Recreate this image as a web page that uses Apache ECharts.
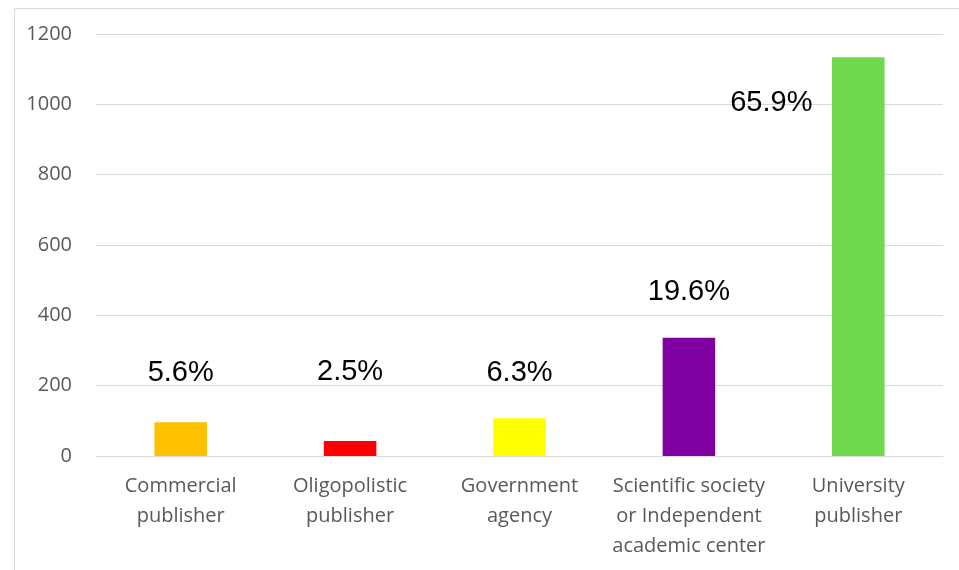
<!DOCTYPE html>
<html lang="en">
<head>
    <meta charset="UTF-8">
    <title>Publishers</title>
    <script src="https://cdn.jsdelivr.net/npm/echarts@6/dist/echarts.min.js"></script>
    <style>
        html, body { margin: 0; padding: 0; background: #fff; }
        #main { width: 959px; height: 570px; }
    </style>
</head>
<body>
<div id="main"></div>
<script type="text/javascript">
    var categories = [
        'Commercial\npublisher',
        'Oligopolistic\npublisher',
        'Government\nagency',
        'Scientific society\nor Independent\nacademic center',
        'University\npublisher'
    ];
    var counts = [96, 43, 107, 336, 1134];
    var shares = ['5.6%', '2.5%', '6.3%', '19.6%', '65.9%'];
    var yTicks = [0, 200, 400, 600, 800, 1000, 1200];

    var barColors = ['#ffc000', '#ff0000', '#ffff00', '#7f00a0', '#70d84c'];
    // where each percentage sits relative to the top of its bar
    var labelOffsets = [[0, -35], [0, -54], [0, -31], [0, -31], [-87, 60]];

    var myChart = echarts.init(document.getElementById('main'));

    var barData = counts.map(function (v, i) {
        return {
            value: v,
            itemStyle: { color: barColors[i] },
            label: { offset: labelOffsets[i] }
        };
    });

    var option = {
        animation: false,
        grid: {
            left: 96,
            right: 16,
            top: 34,
            bottom: 114
        },
        graphic: [
            {
                type: 'rect',
                left: 12,
                top: 6,
                shape: { width: 980, height: 600 },
                style: { fill: 'none', stroke: '#d9d9d9', lineWidth: 1 },
                silent: true
            }
        ],
        xAxis: {
            type: 'category',
            data: categories,
            axisTick: { show: false },
            axisLine: { lineStyle: { color: '#d9d9d9', width: 1 } },
            axisLabel: {
                color: '#595959',
                fontFamily: 'Open Sans',
                fontSize: 20,
                lineHeight: 30,
                margin: 15,
                interval: 0
            }
        },
        yAxis: {
            type: 'value',
            min: yTicks[0],
            max: yTicks[yTicks.length - 1],
            interval: 200,
            axisLine: { show: false },
            axisTick: { show: false },
            splitLine: { lineStyle: { color: '#d9d9d9', width: 1 } },
            axisLabel: {
                color: '#595959',
                fontFamily: 'Open Sans',
                fontSize: 20,
                margin: 24,
                formatter: function (v) { return String(v); }
            }
        },
        series: [
            {
                type: 'bar',
                data: barData,
                barWidth: '31%',
                label: {
                    show: true,
                    position: 'top',
                    distance: 0,
                    color: '#000',
                    fontFamily: 'Liberation Sans',
                    fontSize: 29,
                    formatter: function (p) {
                        return shares[p.dataIndex];
                    }
                }
            }
        ]
    };
    myChart.setOption(option);
</script>
</body>
</html>
